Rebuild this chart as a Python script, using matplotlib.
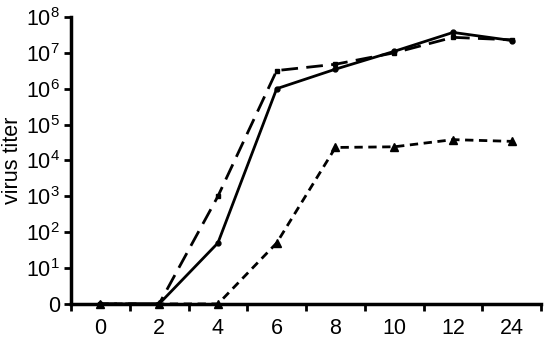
import matplotlib
matplotlib.use("Agg")
import matplotlib.pyplot as plt
import numpy as np

plt.rcParams['font.family'] = ['Liberation Sans', 'DejaVu Sans']
plt.rcParams['mathtext.fontset'] = 'custom'
plt.rcParams['mathtext.rm'] = 'Liberation Sans'

# hours post infection (categorical axis)
hours = ['0', '2', '4', '6', '8', '10', '12', '24']

# virus titers, 0 = below detection
titer_solid = [0, 0, 50, 1.0e6, 3.5e6, 1.1e7, 3.7e7, 2.2e7]
titer_longdash = [0, 0, 1.0e3, 3.2e6, 4.8e6, 1.0e7, 2.7e7, 2.3e7]
titer_shortdash = [0, 0, 0, 50, 2.3e4, 2.4e4, 3.8e4, 3.4e4]

ytick_vals = [1, 1e1, 1e2, 1e3, 1e4, 1e5, 1e6, 1e7, 1e8]
ytick_labels = ['0'] + [r'$\mathregular{10^{%d}}$' % i for i in range(1, 9)]


def floor_zero(v):
    # zero values sit on the bottom axis (10^0)
    v = np.array(v, dtype=float)
    return np.where(v <= 0, 1.0, v)


fig = plt.figure(figsize=(5.5, 3.53), dpi=100)
ax = fig.add_axes([0.129, 0.139, 0.855, 0.813])

x = np.arange(len(hours))
ax.plot(x, floor_zero(titer_solid), '-', color='black', lw=2,
        marker='o', ms=3.5, clip_on=False)
ax.plot(x, floor_zero(titer_longdash), color='black', lw=2,
        dashes=(6, 3), marker='s', ms=3.5, clip_on=False)
ax.plot(x, floor_zero(titer_shortdash), color='black', lw=2,
        dashes=(3, 2), marker='^', ms=6, clip_on=False, zorder=3)

ax.set_yscale('log')
ax.set_ylim(1, 1e8)
ax.set_xlim(-0.5, len(hours) - 0.5)

ax.set_yticks(ytick_vals)
ax.set_yticklabels(ytick_labels)
ax.yaxis.set_minor_locator(matplotlib.ticker.NullLocator())

# tick marks between categories, labels at category centres
ax.set_xticks(np.arange(-0.5, len(hours), 1.0))
ax.set_xticklabels([])
ax.set_xticks(x, minor=True)
ax.set_xticklabels(hours, minor=True)
ax.tick_params(axis='x', which='minor', length=0, pad=10, labelsize=15.5)
ax.tick_params(axis='x', which='major', length=5, width=2, direction='out')
ax.tick_params(axis='y', length=5, width=2, direction='out', labelsize=15.5, pad=3)

for side in ['top', 'right']:
    ax.spines[side].set_visible(False)
for side in ['left', 'bottom']:
    ax.spines[side].set_linewidth(2.5)

ax.set_ylabel('virus titer', fontsize=15.5, labelpad=2)

fig.savefig('out.png', dpi=100)
